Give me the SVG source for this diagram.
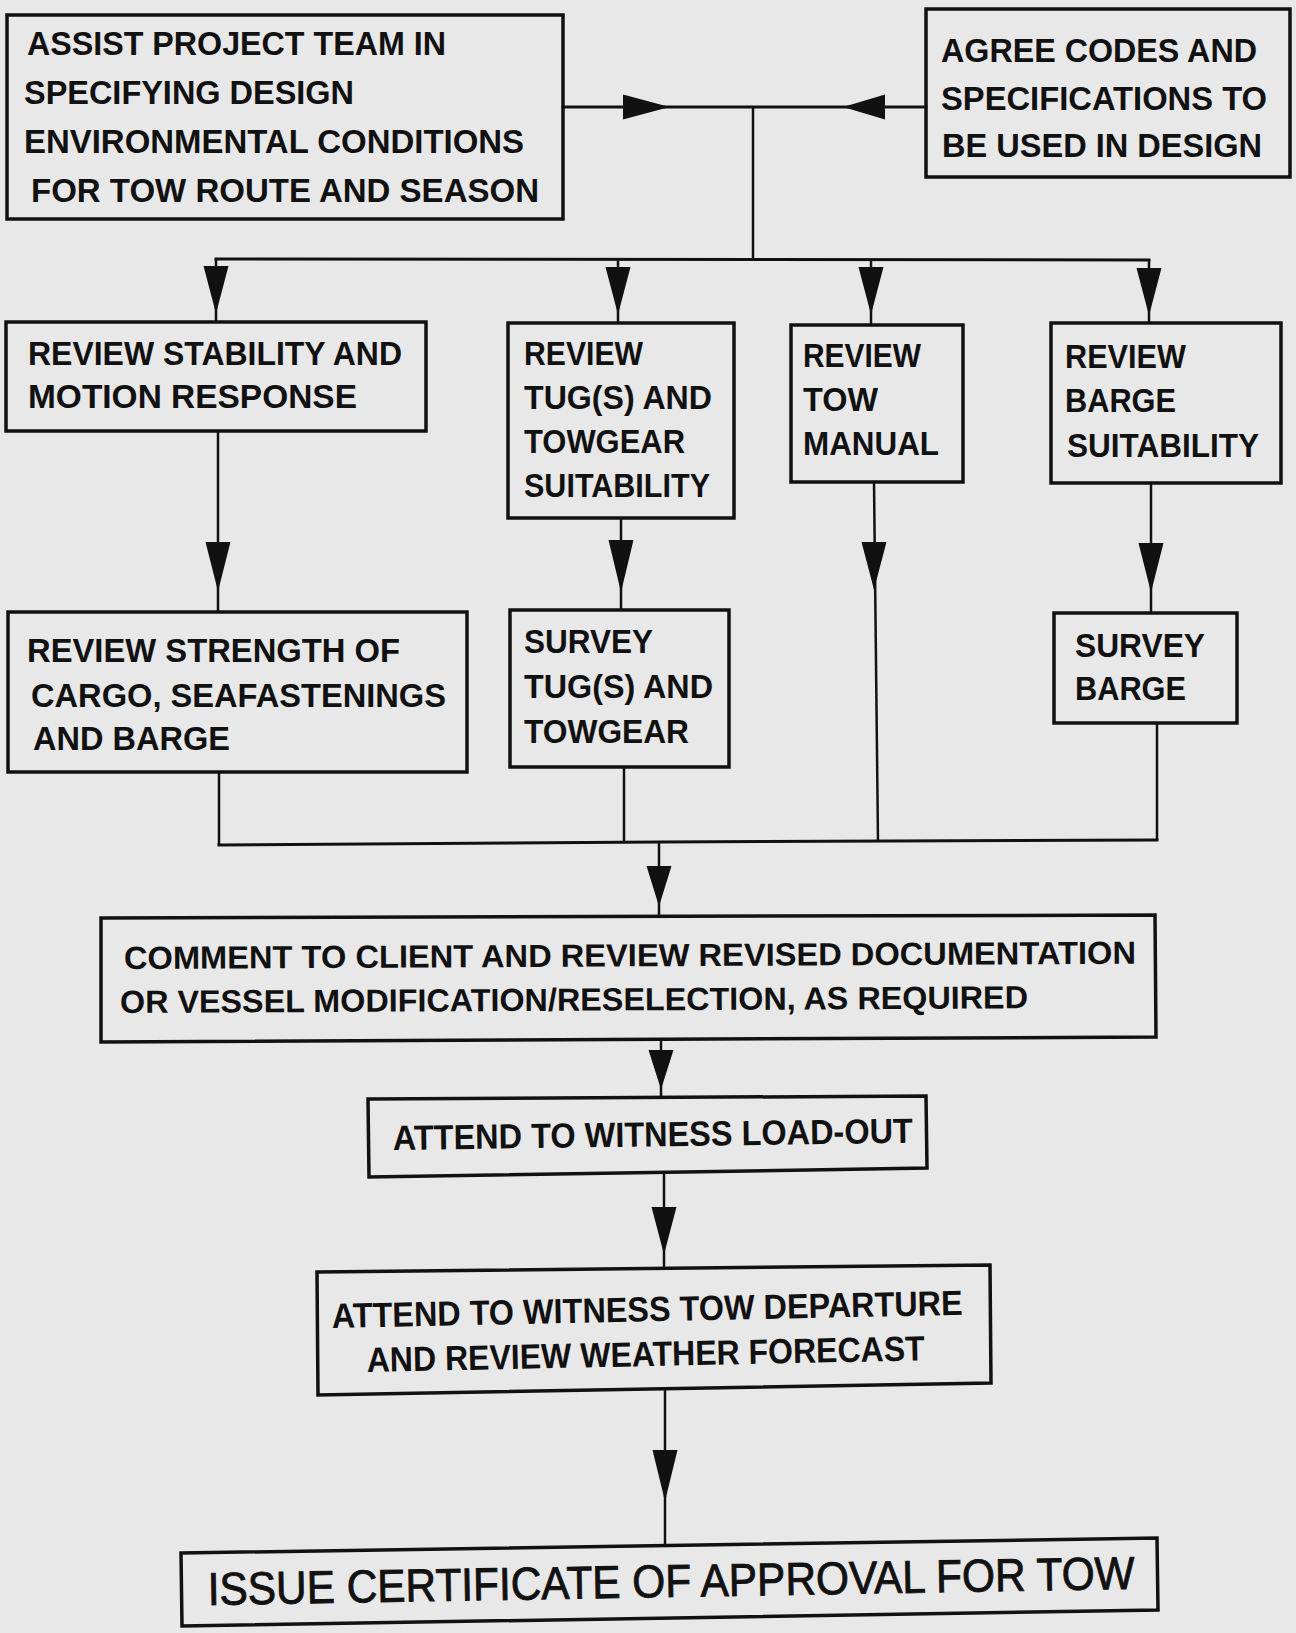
<svg xmlns="http://www.w3.org/2000/svg" xmlns:xlink="http://www.w3.org/1999/xlink" width="1296" height="1633" viewBox="0 0 1296 1633">
<style>
.bg{fill:#e8e8e8}
.box{fill:none;stroke:#111;stroke-width:3.5;stroke-linejoin:miter}
.t{font-family:"Liberation Sans",Arial,Helvetica,sans-serif;font-weight:bold;font-size:33px;fill:#111}
.tc{font-size:32px}
.ta{font-size:35px}
.tx{font-family:"Liberation Sans",Arial,Helvetica,sans-serif;font-weight:normal;font-size:46px;fill:#111;stroke:#111;stroke-width:0.9}
.ln{fill:none;stroke:#111;stroke-width:3;stroke-linecap:square}
.lv{fill:none;stroke:#111;stroke-width:2.5}
.ah{fill:#111}
</style>
<defs>
<path id="ahd" d="M-12.5,0 L12.5,0 L2.5,38 L0,48 L-2.5,38 Z"/>
</defs>
<rect class="bg" x="0" y="0" width="1296" height="1633"/>

<g id="connectors">
  <!-- top horizontal between box1 and box2 -->
  <path class="ln" d="M563,107 L926,107"/>
  <use class="ah" xlink:href="#ahd" href="#ahd" transform="translate(623,107) rotate(-90) scale(1,0.98)"/>
  <use class="ah" xlink:href="#ahd" href="#ahd" transform="translate(885,107) rotate(90) scale(1,0.88)"/>
  <!-- junction -->
  <path class="lv" d="M753,107 L753,260"/>
  <!-- distribution -->
  <path class="ln" d="M216,259 L1149,260"/>
  <path class="lv" d="M216,259 L216,323"/>
  <path class="lv" d="M618,260 L618,323"/>
  <path class="lv" d="M871,260 L871,325"/>
  <path class="lv" d="M1149,260 L1149,323"/>
  <use class="ah" href="#ahd" transform="translate(216,266)"/>
  <use class="ah" href="#ahd" transform="translate(618,267)"/>
  <use class="ah" href="#ahd" transform="translate(871,267)"/>
  <use class="ah" href="#ahd" transform="translate(1149,268)"/>
  <!-- row2 to row3 -->
  <path class="lv" d="M218,431 L218,612"/>
  <use class="ah" href="#ahd" transform="translate(218,542) scale(1,1.04)"/>
  <path class="lv" d="M621,518 L621,610"/>
  <use class="ah" href="#ahd" transform="translate(621,540) scale(1,1.1)"/>
  <path class="lv" d="M1151,483 L1151,613"/>
  <use class="ah" href="#ahd" transform="translate(1151,543) scale(1,1.04)"/>
  <path class="lv" d="M874,482 L878,842"/>
  <use class="ah" href="#ahd" transform="translate(874,542) scale(1,1.0)"/>
  <!-- collectors -->
  <path class="lv" d="M219,772 L219,845"/>
  <path class="lv" d="M624,767 L624,843"/>
  <path class="lv" d="M1157,723 L1157,840"/>
  <path class="ln" d="M219,845 L660,842 L1157,840"/>
  <path class="lv" d="M659,842 L659,917"/>
  <use class="ah" href="#ahd" transform="translate(659,866) scale(1,0.85)"/>
  <path class="lv" d="M661,1040 L661,1098"/>
  <use class="ah" href="#ahd" transform="translate(661,1050) scale(1,0.83)"/>
  <path class="lv" d="M664,1174 L664,1269"/>
  <use class="ah" href="#ahd" transform="translate(664,1207) scale(1,1.0)"/>
  <path class="lv" d="M665,1388 L665,1546"/>
  <use class="ah" href="#ahd" transform="translate(665,1450) scale(1,1.08)"/>
</g>

<g id="assist">
  <rect class="box" x="7" y="15" width="556" height="204"/>
  <text class="t" x="27" y="55" textLength="419" lengthAdjust="spacingAndGlyphs">ASSIST PROJECT TEAM IN</text>
  <text class="t" x="24" y="104" textLength="330" lengthAdjust="spacingAndGlyphs">SPECIFYING DESIGN</text>
  <text class="t" x="24" y="153" textLength="500" lengthAdjust="spacingAndGlyphs">ENVIRONMENTAL CONDITIONS</text>
  <text class="t" x="31" y="202" textLength="508" lengthAdjust="spacingAndGlyphs">FOR TOW ROUTE AND SEASON</text>
</g>

<g id="agree">
  <rect class="box" x="926" y="9" width="364" height="168"/>
  <text class="t" x="941" y="62" textLength="316" lengthAdjust="spacingAndGlyphs">AGREE CODES AND</text>
  <text class="t" x="941" y="110" textLength="326" lengthAdjust="spacingAndGlyphs">SPECIFICATIONS TO</text>
  <text class="t" x="942" y="157" textLength="320" lengthAdjust="spacingAndGlyphs">BE USED IN DESIGN</text>
</g>

<g id="review-stability">
  <rect class="box" x="6" y="322" width="420" height="109"/>
  <text class="t" x="28" y="365" textLength="374" lengthAdjust="spacingAndGlyphs">REVIEW STABILITY AND</text>
  <text class="t" x="28" y="408" textLength="329" lengthAdjust="spacingAndGlyphs">MOTION RESPONSE</text>
</g>

<g id="review-tugs">
  <rect class="box" x="508" y="323" width="226" height="195"/>
  <text class="t" x="524" y="365" textLength="119" lengthAdjust="spacingAndGlyphs">REVIEW</text>
  <text class="t" x="524" y="409" textLength="188" lengthAdjust="spacingAndGlyphs">TUG(S) AND</text>
  <text class="t" x="524" y="453" textLength="161" lengthAdjust="spacingAndGlyphs">TOWGEAR</text>
  <text class="t" x="524" y="497" textLength="186" lengthAdjust="spacingAndGlyphs">SUITABILITY</text>
</g>

<g id="review-tow-manual">
  <rect class="box" x="791" y="325" width="172" height="157"/>
  <text class="t" x="803" y="367" textLength="118" lengthAdjust="spacingAndGlyphs">REVIEW</text>
  <text class="t" x="803" y="411" textLength="75" lengthAdjust="spacingAndGlyphs">TOW</text>
  <text class="t" x="803" y="455" textLength="136" lengthAdjust="spacingAndGlyphs">MANUAL</text>
</g>

<g id="review-barge">
  <rect class="box" x="1051" y="323" width="230" height="160"/>
  <text class="t" x="1065" y="368" textLength="121" lengthAdjust="spacingAndGlyphs">REVIEW</text>
  <text class="t" x="1065" y="412" textLength="111" lengthAdjust="spacingAndGlyphs">BARGE</text>
  <text class="t" x="1067" y="457" textLength="192" lengthAdjust="spacingAndGlyphs">SUITABILITY</text>
</g>

<g id="review-strength">
  <rect class="box" x="8" y="612" width="459" height="160"/>
  <text class="t" x="27" y="662" textLength="373" lengthAdjust="spacingAndGlyphs">REVIEW STRENGTH OF</text>
  <text class="t" x="31" y="707" textLength="415" lengthAdjust="spacingAndGlyphs">CARGO, SEAFASTENINGS</text>
  <text class="t" x="33" y="750" textLength="197" lengthAdjust="spacingAndGlyphs">AND BARGE</text>
</g>

<g id="survey-tugs">
  <rect class="box" x="510" y="610" width="219" height="157"/>
  <text class="t" x="524" y="653" textLength="129" lengthAdjust="spacingAndGlyphs">SURVEY</text>
  <text class="t" x="524" y="698" textLength="189" lengthAdjust="spacingAndGlyphs">TUG(S) AND</text>
  <text class="t" x="524" y="743" textLength="165" lengthAdjust="spacingAndGlyphs">TOWGEAR</text>
</g>

<g id="survey-barge">
  <rect class="box" x="1054" y="613" width="183" height="110"/>
  <text class="t" x="1075" y="657" textLength="130" lengthAdjust="spacingAndGlyphs">SURVEY</text>
  <text class="t" x="1075" y="700" textLength="111" lengthAdjust="spacingAndGlyphs">BARGE</text>
</g>

<g id="comment">
  <polygon class="box" points="101,918 1155,915 1156,1037 101,1042"/>
  <text class="t tc" x="124" y="969" textLength="1012" lengthAdjust="spacingAndGlyphs" transform="rotate(-0.3 124 969)">COMMENT TO CLIENT AND REVIEW REVISED DOCUMENTATION</text>
  <text class="t tc" x="120" y="1013" textLength="908" lengthAdjust="spacingAndGlyphs" transform="rotate(-0.3 120 1013)">OR VESSEL MODIFICATION/RESELECTION, AS REQUIRED</text>
</g>

<g id="load-out">
  <polygon class="box" points="368,1099 926,1096 927,1168 369,1177"/>
  <text class="t ta" x="393" y="1150" textLength="520" lengthAdjust="spacingAndGlyphs" transform="rotate(-0.8 393 1150)">ATTEND TO WITNESS LOAD-OUT</text>
</g>

<g id="departure">
  <polygon class="box" points="317,1272 990,1265 991,1383 318,1395"/>
  <text class="t ta" x="332" y="1328" textLength="631" lengthAdjust="spacingAndGlyphs" transform="rotate(-1.2 332 1328)">ATTEND TO WITNESS TOW DEPARTURE</text>
  <text class="t ta" x="367" y="1372" textLength="558" lengthAdjust="spacingAndGlyphs" transform="rotate(-1.2 367 1372)">AND REVIEW WEATHER FORECAST</text>
</g>

<g id="certificate">
  <polygon class="box" points="181,1553 1157,1538 1158,1610 182,1626"/>
  <text class="tx" x="208" y="1605" textLength="927" lengthAdjust="spacingAndGlyphs" transform="rotate(-1 208 1605)">ISSUE CERTIFICATE OF APPROVAL FOR TOW</text>
</g>
</svg>
